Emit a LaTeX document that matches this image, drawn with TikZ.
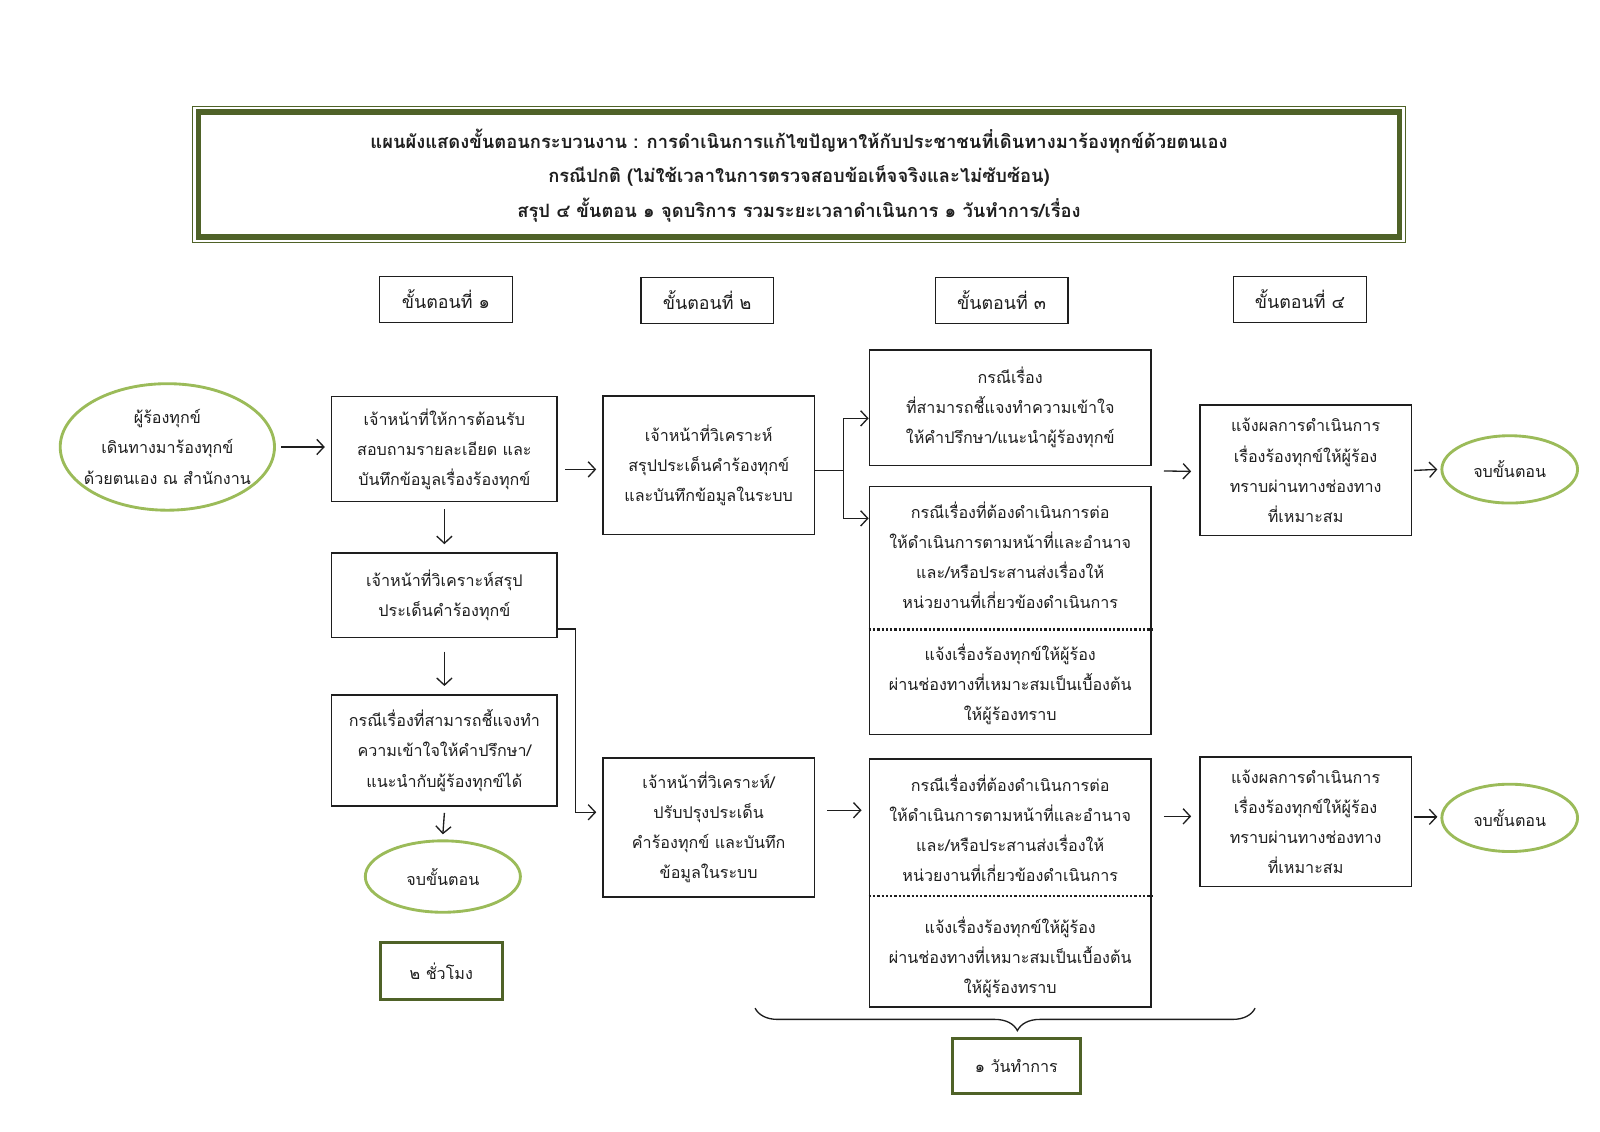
\documentclass[tikz,border=0pt]{standalone}
\usepackage{fontspec}
\setmainfont[Script=Thai]{Loma}
\usetikzlibrary{arrows.meta,shapes.geometric,calc,decorations.pathreplacing}
\definecolor{frameolive}{HTML}{4F6228}
\definecolor{lgreen}{HTML}{9BBB59}
\definecolor{ink}{HTML}{1E1E1E}
\newcommand{\bodyfs}{\fontsize{15.8}{29.5}\selectfont}
\newcommand{\stepfs}{\fontsize{17.5}{29.5}\selectfont}
\newcommand{\titlefs}{\fontsize{18}{34}\selectfont\bfseries}
\begin{document}
\begin{tikzpicture}[x=1pt,y=-1pt,
  box/.style={draw=ink, line width=1.4pt, rectangle, inner sep=0pt, align=center, text=ink, font=\bodyfs},
  txt/.style={inner sep=0pt, align=center, text=ink, font=\bodyfs},
  oval/.style={draw=lgreen, line width=2.8pt, ellipse, inner sep=0pt, align=center, text=ink, font=\bodyfs},
  gbox/.style={draw=frameolive, line width=3pt, rectangle, inner sep=0pt, align=center, text=ink, font=\bodyfs},
  arr/.style={draw=ink, line width=1.3pt, -{Straight Barb[length=7pt,width=15pt,line width=1.3pt]}},
  link/.style={draw=ink, line width=1.3pt}
]
\useasboundingbox[fill=white] (0,0) rectangle (1568,1108.5);

% title frame
\draw[frameolive, line width=1pt] (189,104) rectangle (1377,238);
\draw[frameolive, line width=5.5pt] (194.5,109.5) rectangle (1371.5,232.5);
\node[txt, font=\titlefs] (title) at (783,172) {แผนผังแสดงขั้นตอนกระบวนงาน : การดำเนินการแก้ไขปัญหาให้กับประชาชนที่เดินทางมาร้องทุกข์ด้วยตนเอง\\กรณีปกติ (ไม่ใช้เวลาในการตรวจสอบข้อเท็จจริงและไม่ซับซ้อน)\\สรุป ๔ ขั้นตอน ๑ จุดบริการ รวมระยะเวลาดำเนินการ ๑ วันทำการ/เรื่อง};

% step headers
\node[box, font=\stepfs, minimum width=130, minimum height=45] (s1) at (437,293.5) {ขั้นตอนที่ ๑};
\node[box, font=\stepfs, minimum width=130, minimum height=45] (s2) at (693,294.5) {ขั้นตอนที่ ๒};
\node[box, font=\stepfs, minimum width=130, minimum height=45] (s3) at (981.5,294.5) {ขั้นตอนที่ ๓};
\node[box, font=\stepfs, minimum width=130, minimum height=45] (s4) at (1274,293.5) {ขั้นตอนที่ ๔};

% column 1
\node[oval, inner xsep=-9pt, minimum width=210, minimum height=124] (start) at (164,438) {ผู้ร้องทุกข์\\เดินทางมาร้องทุกข์\\ด้วยตนเอง ณ สำนักงาน};
\node[box, minimum width=221, minimum height=103] (A) at (435.5,440) {เจ้าหน้าที่ให้การต้อนรับ\\สอบถามรายละเอียด และ\\บันทึกข้อมูลเรื่องร้องทุกข์};
\node[box, minimum width=221, minimum height=83] (B) at (435.5,583.5) {เจ้าหน้าที่วิเคราะห์สรุป\\ประเด็นคำร้องทุกข์};
\node[box, minimum width=221, minimum height=109] (C) at (435.5,735.5) {กรณีเรื่องที่สามารถชี้แจงทำ\\ความเข้าใจให้คำปรึกษา/\\แนะนำกับผู้ร้องทุกข์ได้};
\node[oval, minimum width=152, minimum height=70] (end1) at (434,859) {จบขั้นตอน};
\node[gbox, minimum width=119, minimum height=56] (hrs) at (432.5,951.5) {๒ ชั่วโมง};

% column 2
\node[box, minimum width=207, minimum height=136] (D) at (694.5,456) {เจ้าหน้าที่วิเคราะห์\\สรุปประเด็นคำร้องทุกข์\\และบันทึกข้อมูลในระบบ};
\node[box, minimum width=207, minimum height=136] (H) at (694.5,811) {เจ้าหน้าที่วิเคราะห์/\\ปรับปรุงประเด็น\\คำร้องทุกข์ และบันทึก\\ข้อมูลในระบบ};

% column 3
\node[box, minimum width=276, minimum height=113] (E) at (990,399.5) {กรณีเรื่อง\\ที่สามารถชี้แจงทำความเข้าใจ\\ให้คำปรึกษา/แนะนำผู้ร้องทุกข์};
\node[box, minimum width=276, minimum height=243] (F) at (990,598.5) {};
\node[txt] (Ft) at (990,544) {กรณีเรื่องที่ต้องดำเนินการต่อ\\ให้ดำเนินการตามหน้าที่และอำนาจ\\และ/หรือประสานส่งเรื่องให้\\หน่วยงานที่เกี่ยวข้องดำเนินการ};
\node[txt] (Fb) at (990,671) {แจ้งเรื่องร้องทุกข์ให้ผู้ร้อง\\ผ่านช่องทางที่เหมาะสมเป็นเบื้องต้น\\ให้ผู้ร้องทราบ};
\draw[ink, dotted, line width=2.2pt] ($(F.west)+(0,18.5)$) -- ($(F.east)+(0,18.5)$);

\node[box, minimum width=276, minimum height=243] (I) at (990,865.5) {};
\node[txt] (It) at (990,812) {กรณีเรื่องที่ต้องดำเนินการต่อ\\ให้ดำเนินการตามหน้าที่และอำนาจ\\และ/หรือประสานส่งเรื่องให้\\หน่วยงานที่เกี่ยวข้องดำเนินการ};
\node[txt] (Ib) at (990,938) {แจ้งเรื่องร้องทุกข์ให้ผู้ร้อง\\ผ่านช่องทางที่เหมาะสมเป็นเบื้องต้น\\ให้ผู้ร้องทราบ};
\draw[ink, dotted, line width=2.2pt] ($(I.west)+(0,12.5)$) -- ($(I.east)+(0,12.5)$);

% column 4
\node[box, minimum width=207, minimum height=128] (G) at (1279.5,461) {แจ้งผลการดำเนินการ\\เรื่องร้องทุกข์ให้ผู้ร้อง\\ทราบผ่านทางช่องทาง\\ที่เหมาะสม};
\node[box, minimum width=207, minimum height=127] (J) at (1279.5,805.5) {แจ้งผลการดำเนินการ\\เรื่องร้องทุกข์ให้ผู้ร้อง\\ทราบผ่านทางช่องทาง\\ที่เหมาะสม};
\node[oval, minimum width=133, minimum height=66] (end2) at (1479.5,460) {จบขั้นตอน};
\node[oval, minimum width=133, minimum height=66] (end3) at (1479.5,801.5) {จบขั้นตอน};

\node[gbox, minimum width=126, minimum height=54] (day) at (996,1045) {๑ วันทำการ};

% connectors
\draw[arr] ($(start.east)+(5,0)$) -- ($(A.west)+(-6,-2)$);
\draw[arr] ($(A.south)+(0,7)$) -- ($(B.north)+(0,-8)$);
\draw[arr] ($(B.south)+(0,13)$) -- ($(C.north)+(0,-8)$);
\draw[arr] ($(C.south)+(0,6)$) -- ($(end1.north)+(0,-5)$);
\draw[arr] ($(A.east)+(7,20)$) -- ($(D.west)+(-6,4)$);
\coordinate (fk) at ($(D.east)+(28,5)$);
\draw[link] ($(D.east)+(0,5)$) -- (fk);
\draw[arr] (fk) |- ($(E.west)+(0,10.5)$);
\draw[arr] (fk) |- ($(F.west)+(0,-90.5)$);
\draw[arr] ($(E.east)+(12,62)$) -- ($(G.west)+(-8,1)$);
\draw[arr] ($(G.east)+(2,0)$) -- ($(end2.west)+(-3,0)$);
\draw[arr] ($(B.east)+(0,33)$) -| ($(H.west)+(-26,-15)$) -- ($(H.west)+(-6,-15)$);
\draw[arr] ($(H.east)+(12,-17)$) -- ($(I.west)+(-7,-71.5)$);
\draw[arr] ($(I.east)+(12,-65.5)$) -- ($(J.west)+(-8,-5.5)$);
\draw[arr] ($(J.east)+(2,-5)$) -- ($(end3.west)+(-3,-1)$);

% brace
\draw[ink, line width=1.3pt, decorate, decoration={brace, amplitude=22pt, aspect=0.4755}] (1230,988) -- (740,988);
\end{tikzpicture}
\end{document}
